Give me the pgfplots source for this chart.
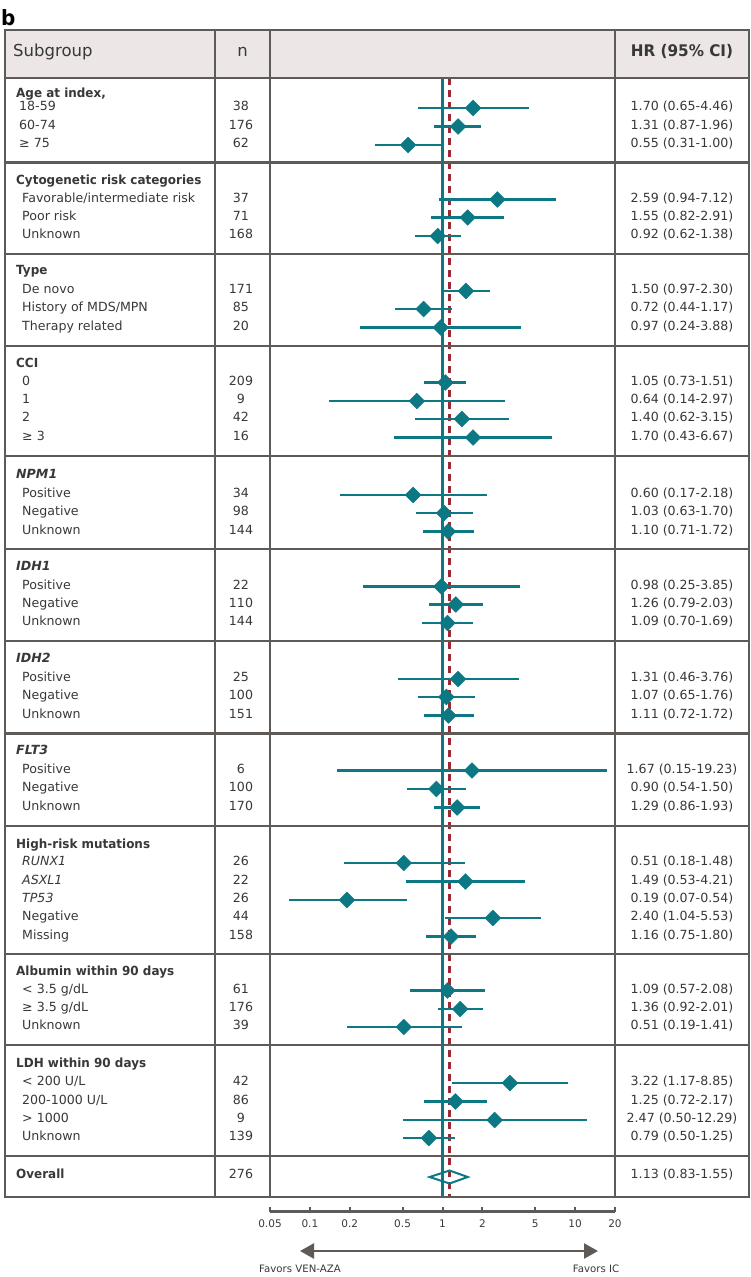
\documentclass[border=0pt]{standalone}
\usepackage{fontspec}
\setmainfont{DejaVu Sans}[BoldFeatures={FakeStretch=0.95}]
\usepackage{pgfplots}
\pgfplotsset{compat=1.18}
\usepackage{pgfplotstable}
\usetikzlibrary{arrows.meta}
\definecolor{tealc}{HTML}{0B7883}
\definecolor{redd}{HTML}{9A2A33}
\definecolor{gridg}{HTML}{5E5A58}
\definecolor{hdr}{HTML}{ECE6E6}
\definecolor{txt}{HTML}{383838}

\pgfplotstableread{
y hr lo hi
-108 1.70 0.65 4.46
-126.5 1.31 0.87 1.96
-145 0.55 0.31 1.00
-199.5 2.59 0.94 7.12
-217.5 1.55 0.82 2.91
-236 0.92 0.62 1.38
-291 1.50 0.97 2.30
-309 0.72 0.44 1.17
-327.5 0.97 0.24 3.88
-382.5 1.05 0.73 1.51
-401 0.64 0.14 2.97
-419 1.40 0.62 3.15
-437.5 1.70 0.43 6.67
-495 0.60 0.17 2.18
-513 1.03 0.63 1.70
-531.5 1.10 0.71 1.72
-586.5 0.98 0.25 3.85
-604.5 1.26 0.79 2.03
-623 1.09 0.70 1.69
-679 1.31 0.46 3.76
-697 1.07 0.65 1.76
-715.5 1.11 0.72 1.72
-770.5 1.67 0.16 17.5
-789 0.90 0.54 1.50
-807.5 1.29 0.86 1.93
-863 0.51 0.18 1.48
-881.5 1.49 0.53 4.21
-900 0.19 0.07 0.54
-918 2.40 1.04 5.53
-936.5 1.16 0.75 1.80
-990.5 1.09 0.57 2.08
-1009 1.36 0.92 2.01
-1027 0.51 0.19 1.41
-1083 3.22 1.17 8.85
-1101.5 1.25 0.72 2.17
-1120 2.47 0.50 12.29
-1138 0.79 0.50 1.25
}\hrdata

\newcommand{\bodyf}{\fontsize{12.6}{15}\selectfont}
\newcommand{\grp}[2]{\node[anchor=west,font=\bodyf\bfseries] at (16,#1) {#2};}
\newcommand{\rowt}[5][22]{%
  \node[anchor=west] at (#1,#2) {#3};
  \node at (241,#2) {#4};
  \node at (682,#2) {#5};}

\begin{document}
\begin{tikzpicture}
\begin{scope}[x=1pt,y=-1pt]
\useasboundingbox (0,0) rectangle (751,1277);
\fill[hdr] (5,30) rectangle (749,78);
\end{scope}

\begin{axis}[
  at={(270pt,-30pt)}, anchor=north west,
  scale only axis, width=345pt, height=1181.5pt,
  xmode=log, xmin=0.05, xmax=20, ymin=-1211.5, ymax=-30,
  axis x line=bottom, axis y line=none,
  x axis line style={gridg, line width=2.3pt, -},
  xtick={0.05,0.1,0.2,0.5,1,2,5,10,20},
  xticklabels={0.05,0.1,0.2,0.5,1,2,5,10,20},
  minor xtick={},
  xtick align=inside, major tick length=5pt,
  xtick style={gridg, line width=2pt},
  xticklabel style={font=\fontsize{10.5}{12}\selectfont, text=txt, yshift=-5pt},
  clip=false,
]
\addplot[tealc, line width=2.3pt] coordinates {(1,-78) (1,-1197)};
\addplot[redd, line width=2.2pt, dash pattern=on 7pt off 5pt] coordinates {(1.13,-78) (1.13,-1197)};
\addplot[draw=none, mark=none,
  error bars/.cd, x dir=both, x explicit, error mark=none,
  error bar style={tealc, line width=2.2pt}]
  table[x=hr, y=y, x error plus expr=\thisrow{hi}-\thisrow{hr}, x error minus expr=\thisrow{hr}-\thisrow{lo}] {\hrdata};
\addplot[only marks, mark=square*, mark size=5.6pt,
  mark options={rotate=45, draw=tealc, fill=tealc}] table[x=hr, y=y] {\hrdata};
\addplot[tealc, line width=2pt, line join=miter] coordinates {(0.80,-1177) (1.13,-1170.5) (1.55,-1177) (1.13,-1183.5) (0.80,-1177) (1.13,-1170.5)};
\end{axis}

\begin{scope}[x=1pt,y=-1pt, every node/.style={text=txt, inner sep=0pt, text height=0.72em, text depth=0.2em}, font=\bodyf]
% table lines
\draw[gridg, line width=2.4pt] (5,30) rectangle (749,1197);
\foreach \yy in {78,162.5,254,346,456,549,641,733.5,826,954,1045,1156}
  \draw[gridg, line width=2.4pt] (5,\yy) -- (749,\yy);
\foreach \xx in {215,270,615}
  \draw[gridg, line width=2.4pt] (\xx,30) -- (\xx,1197);

\node[anchor=base west, font=\bfseries\fontsize{21}{21}\selectfont, text=black, text height=, text depth=] at (1,25) {b};
\node[anchor=west, font=\fontsize{16.5}{18}\selectfont] at (13,54) {Subgroup};
\node[font=\fontsize{16.5}{18}\selectfont] at (242.5,54) {n};
\node[font=\bfseries\fontsize{16}{18}\selectfont] at (682,54) {HR (95\% CI)};

\grp{95}{Age at index,}
\rowt[19]{108}{18-59}{38}{1.70 (0.65-4.46)}
\rowt[19]{126.5}{60-74}{176}{1.31 (0.87-1.96)}
\rowt[19]{145}{≥ 75}{62}{0.55 (0.31-1.00)}

\grp{182}{Cytogenetic risk categories}
\rowt{199.5}{Favorable/intermediate risk}{37}{2.59 (0.94-7.12)}
\rowt{217.5}{Poor risk}{71}{1.55 (0.82-2.91)}
\rowt{236}{Unknown}{168}{0.92 (0.62-1.38)}

\grp{272}{Type}
\rowt{291}{De novo}{171}{1.50 (0.97-2.30)}
\rowt{309}{History of MDS/MPN}{85}{0.72 (0.44-1.17)}
\rowt{327.5}{Therapy related}{20}{0.97 (0.24-3.88)}

\grp{364.5}{CCI}
\rowt{382.5}{0}{209}{1.05 (0.73-1.51)}
\rowt{401}{1}{9}{0.64 (0.14-2.97)}
\rowt{419}{2}{42}{1.40 (0.62-3.15)}
\rowt{437.5}{≥ 3}{16}{1.70 (0.43-6.67)}

\grp{476}{\itshape NPM1}
\rowt{495}{Positive}{34}{0.60 (0.17-2.18)}
\rowt{513}{Negative}{98}{1.03 (0.63-1.70)}
\rowt{531.5}{Unknown}{144}{1.10 (0.71-1.72)}

\grp{568}{\itshape IDH1}
\rowt{586.5}{Positive}{22}{0.98 (0.25-3.85)}
\rowt{604.5}{Negative}{110}{1.26 (0.79-2.03)}
\rowt{623}{Unknown}{144}{1.09 (0.70-1.69)}

\grp{660}{\itshape IDH2}
\rowt{679}{Positive}{25}{1.31 (0.46-3.76)}
\rowt{697}{Negative}{100}{1.07 (0.65-1.76)}
\rowt{715.5}{Unknown}{151}{1.11 (0.72-1.72)}

\grp{752}{\itshape FLT3}
\rowt{770.5}{Positive}{6}{1.67 (0.15-19.23)}
\rowt{789}{Negative}{100}{0.90 (0.54-1.50)}
\rowt{807.5}{Unknown}{170}{1.29 (0.86-1.93)}

\grp{845.5}{High-risk mutations}
\rowt{863}{\itshape RUNX1}{26}{0.51 (0.18-1.48)}
\rowt{881.5}{\itshape ASXL1}{22}{1.49 (0.53-4.21)}
\rowt{900}{\itshape TP53}{26}{0.19 (0.07-0.54)}
\rowt{918}{Negative}{44}{2.40 (1.04-5.53)}
\rowt{936.5}{Missing}{158}{1.16 (0.75-1.80)}

\grp{972.5}{Albumin within 90 days}
\rowt{990.5}{< 3.5 g/dL}{61}{1.09 (0.57-2.08)}
\rowt{1009}{≥ 3.5 g/dL}{176}{1.36 (0.92-2.01)}
\rowt{1027}{Unknown}{39}{0.51 (0.19-1.41)}

\grp{1064.5}{LDH within 90 days}
\rowt{1083}{< 200 U/L}{42}{3.22 (1.17-8.85)}
\rowt{1101.5}{200-1000 U/L}{86}{1.25 (0.72-2.17)}
\rowt{1120}{> 1000}{9}{2.47 (0.50-12.29)}
\rowt{1138}{Unknown}{139}{0.79 (0.50-1.25)}

\grp{1176}{Overall}
\node at (241,1176) {276};
\node at (682,1176) {1.13 (0.83-1.55)};

% favours arrow
\draw[gridg, line width=2.5pt, {Triangle[length=14pt,width=15pt]}-{Triangle[length=14pt,width=15pt]}] (300,1251) -- (598,1251);
\node[font=\fontsize{10.2}{12}\selectfont] at (300,1270) {Favors VEN-AZA};
\node[font=\fontsize{10.2}{12}\selectfont] at (596,1270) {Favors IC};
\end{scope}
\end{tikzpicture}
\end{document}
